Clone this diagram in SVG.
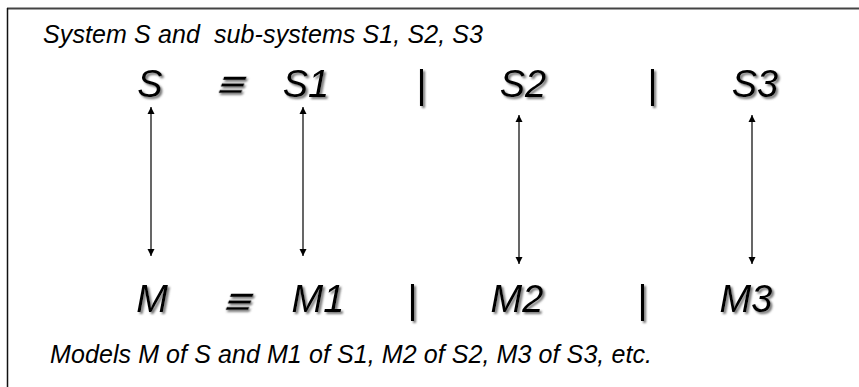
<svg xmlns="http://www.w3.org/2000/svg" width="859" height="387" viewBox="0 0 859 387">
  <defs>
    <filter id="sh" x="-20%" y="-20%" width="150%" height="150%">
      <feDropShadow dx="2" dy="2" stdDeviation="0.8" flood-color="#666" flood-opacity="0.9"/>
    </filter>
    <marker id="ah" viewBox="0 0 10 10" refX="10" refY="5" markerWidth="7" markerHeight="10" markerUnits="userSpaceOnUse" orient="auto-start-reverse">
      <path d="M0,0 L10,5 L0,10 Z" fill="#000"/>
    </marker>
  </defs>
  <style>
    .cap { font-family: "Liberation Sans", Arial, sans-serif; font-style: italic; font-size: 25px; fill: #000; white-space: pre; }
    .big { font-family: "Liberation Sans", Arial, sans-serif; font-style: italic; font-size: 38px; fill: #000; text-anchor: middle; filter: url(#sh); }
    .eq { font-family: "DejaVu Sans", sans-serif; font-size: 36px; fill: #000; text-anchor: middle; filter: url(#sh); }
    .conn line { stroke: #000; stroke-width: 1.2; marker-start: url(#ah); marker-end: url(#ah); }
  </style>
  <rect width="859" height="387" fill="#fff"/>
  <g id="frame">
    <line x1="7" y1="8.5" x2="859" y2="8.5" stroke="#444" stroke-width="2"/>
    <line x1="7.5" y1="8" x2="7.5" y2="387" stroke="#111" stroke-width="1.5"/>
  </g>
  <text class="cap" x="43" y="43" xml:space="preserve" textLength="440" lengthAdjust="spacing">System S and  sub-systems S1, S2, S3</text>
  <text class="cap" x="50" y="363" textLength="602" lengthAdjust="spacing">Models M of S and M1 of S1, M2 of S2, M3 of S3, etc.</text>

  <g id="S"><text class="big" x="150" y="97">S</text></g>
  <g transform="translate(229,96) skewX(-18)"><text class="eq" x="0" y="0">≡</text></g>
  <g id="S1"><text class="big" x="306" y="97">S1</text></g>
  <text class="big" x="421" y="97">|</text>
  <g id="S2"><text class="big" x="523" y="97">S2</text></g>
  <text class="big" x="652" y="97">|</text>
  <g id="S3"><text class="big" x="755" y="97">S3</text></g>

  <g id="M"><text class="big" x="152" y="312">M</text></g>
  <g transform="translate(236,313) skewX(-18)"><text class="eq" x="0" y="0">≡</text></g>
  <g id="M1"><text class="big" x="318" y="312">M1</text></g>
  <text class="big" x="412" y="312">|</text>
  <g id="M2"><text class="big" x="517" y="312">M2</text></g>
  <text class="big" x="642" y="312">|</text>
  <g id="M3"><text class="big" x="746" y="312">M3</text></g>

  <g id="connectors" class="conn">
    <line x1="151" y1="107" x2="151" y2="256"/>
    <line x1="303" y1="107" x2="303" y2="256"/>
    <line x1="519" y1="115" x2="519" y2="264"/>
    <line x1="752" y1="115" x2="752" y2="264"/>
  </g>
</svg>
